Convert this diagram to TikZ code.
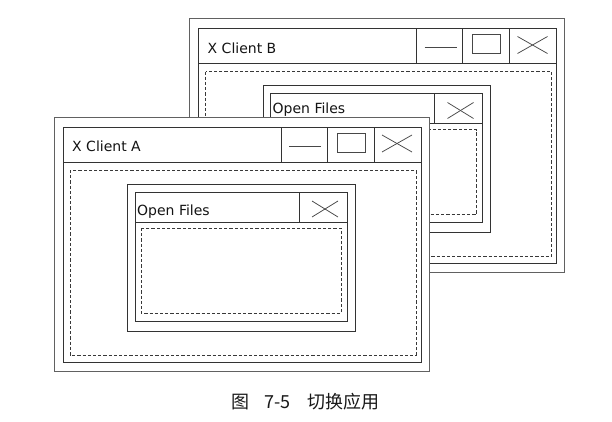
\documentclass[tikz,border=0pt]{standalone}
\usepackage{fontspec}
\newfontfamily\uifont{DejaVu Sans}
\newfontfamily\cjkfont{Noto Sans CJK SC}
\tikzset{
  frameouter/.style={draw=black!62, fill=white, line width=1pt},
  frameinner/.style={draw=black!80, line width=1pt},
  thinline/.style={draw=black!72, line width=0.75pt},
  dashbox/.style={draw=black!78, line width=0.75pt, dash pattern=on 3.2pt off 2pt},
  titletext/.style={font=\uifont\fontsize{14}{16}\selectfont, text=black!92, inner sep=0pt, anchor=base west},
  captext/.style={font=\cjkfont\fontsize{18}{20}\selectfont, text=black!90, inner sep=0pt, anchor=base west}
}
\newcommand{\drawxwin}[5]{%
  % #1 shift, #2 label, #3 name prefix, #4 title baseline, #5 dialog title baseline
  \begin{scope}[shift={#1}]
    \draw[frameouter] (54,117) rectangle (429,371);
    \draw[frameinner] (63,127) rectangle (421,362);
    \draw[frameinner] (63,162) -- (421,162);
    \draw[frameinner] (281,127) -- (281,162);
    \draw[frameinner] (327,127) -- (327,162);
    \draw[frameinner] (374,127) -- (374,162);
    \draw[thinline] (289,146) -- (321,146);
    \draw[thinline] (337,133) rectangle (365,152);
    \draw[thinline] (382,135) -- (412,152);
    \draw[thinline] (382,152) -- (412,135);
    \draw[dashbox] (70,170) rectangle (416,355);
    \node[titletext] (#3title) at (72,#4) {#2};
    % Open Files dialog
    \draw[frameinner] (127.5,184) rectangle (355,331);
    \draw[frameinner] (135,192) rectangle (347,321);
    \draw[frameinner] (135,222) -- (347,222);
    \draw[frameinner] (299,192) -- (299,222);
    \draw[thinline] (312,201) -- (338,217);
    \draw[thinline] (312,217) -- (338,201);
    \draw[dashbox] (141,228) rectangle (341,313);
    \node[titletext] (#3open) at (137,#5) {Open Files};
  \end{scope}%
}
\begin{document}
\begin{tikzpicture}[x=1pt,y=-1pt]
\useasboundingbox[fill=white] (0,0) rectangle (612,421);
\drawxwin{(135.5,-98.5)}{X Client B}{b}{152}{212}
\drawxwin{(0,0)}{X Client A}{a}{151}{215}
\node[captext] (capfig) at (231,408) {图};
\node[captext] (capnum) at (264,408) {7-5};
\node[captext] (captxt) at (307,408) {切换应用};
\end{tikzpicture}
\end{document}
